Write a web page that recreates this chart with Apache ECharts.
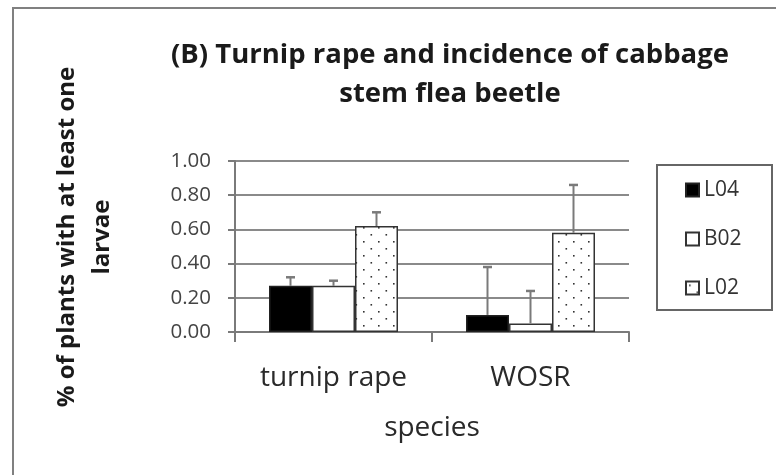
<!DOCTYPE html>
<html>
<head>
<meta charset="utf-8">
<script src="https://cdn.jsdelivr.net/npm/echarts@6/dist/echarts.min.js"></script>
<style>
  html, body { margin: 0; padding: 0; background: #fff; }
  #chart { width: 776px; height: 475px; }
</style>
</head>
<body>
<div id="chart"></div>
<script>
// data
const categories = ['turnip rape', 'WOSR'];
const seriesNames = ['L04', 'B02', 'L02'];
const valL04 = [0.27, 0.10];
const valB02 = [0.27, 0.05];
const valL02 = [0.62, 0.58];
// upper error bar lengths
const errL04 = [0.05, 0.28];
const errB02 = [0.03, 0.19];
const errL02 = [0.08, 0.28];
const yTicks = [0, 0.2, 0.4, 0.6, 0.8, 1.0];

const FONT = '"Open Sans", Lato, sans-serif';
const BAR_W = 43;

// dotted fill for L02
const dotCanvas = document.createElement('canvas');
dotCanvas.width = 15;
dotCanvas.height = 14;
const dctx = dotCanvas.getContext('2d');
dctx.fillStyle = '#fff';
dctx.fillRect(0, 0, 15, 14);
dctx.fillStyle = '#333';
dctx.fillRect(3, 3, 1.6, 1.6);
dctx.fillRect(10.5, 10, 1.6, 1.6);

let chart = echarts.init(document.getElementById('chart'));

const barStyle = {
  L04: { color: '#000', borderColor: '#222', borderWidth: 1.5 },
  B02: { color: '#fff', borderColor: '#333', borderWidth: 1.5 },
  L02: { color: { image: dotCanvas, repeat: 'repeat' }, borderColor: '#333', borderWidth: 1.5 }
};

const makeErr = (vals, errs, offset) => {
  return {
    type: 'custom',
    z: 5,
    silent: true,
    data: vals.map((v, i) => [i, v, v + errs[i]]),
    renderItem: (params, api) => {
      const base = api.coord([api.value(0), api.value(1)]);
      const top = api.coord([api.value(0), api.value(2)]);
      const x = base[0] + offset;
      return {
        type: 'group',
        children: [{
          type: 'line',
          shape: { x1: x, y1: base[1], x2: x, y2: top[1] },
          style: { stroke: '#7a7a7a', lineWidth: 2 }
        }, {
          type: 'line',
          shape: { x1: x - 4.5, y1: top[1], x2: x + 4.5, y2: top[1] },
          style: { stroke: '#7a7a7a', lineWidth: 2.5 }
        }]
      };
    }
  };
};

let option = {
  animation: false,
  backgroundColor: '#fff',
  title: {
    text: '(B) Turnip rape and incidence of cabbage\nstem flea beetle',
    left: 445,
    top: 31,
    textAlign: 'center',
    textStyle: { fontFamily: FONT, fontSize: 27.5, fontWeight: 'bold', color: '#1a1a1a', lineHeight: 39 }
  },
  legend: {
    orient: 'vertical',
    left: 685,
    top: 178,
    icon: 'rect',
    itemWidth: 13,
    itemHeight: 13,
    itemGap: 25,
    padding: 0,
    data: seriesNames,
    textStyle: { fontFamily: FONT, fontSize: 21, color: '#333', lineHeight: 24 }
  },
  grid: { left: 235, right: 147, top: 161, bottom: 143 },
  xAxis: {
    type: 'category',
    data: categories,
    axisLine: { lineStyle: { color: '#7a7a7a', width: 2 } },
    axisTick: { show: true, length: 10, lineStyle: { color: '#7a7a7a', width: 2 } },
    axisLabel: { fontFamily: FONT, fontSize: 28, color: '#2a2a2a', margin: 32 },
    name: 'species',
    nameLocation: 'middle',
    nameGap: 82,
    nameTextStyle: { fontFamily: FONT, fontSize: 28, color: '#2a2a2a' }
  },
  yAxis: {
    type: 'value',
    min: 0,
    max: 1,
    interval: 0.2,
    axisLine: { show: true, lineStyle: { color: '#7a7a7a', width: 2 } },
    axisTick: { show: true, length: 7, lineStyle: { color: '#7a7a7a', width: 2 } },
    splitLine: { lineStyle: { color: '#8a8a8a', width: 2 } },
    axisLabel: {
      fontFamily: FONT, fontSize: 20.5, color: '#444', margin: 24,
      formatter: (v) => yTicks.includes(Math.round(v * 10) / 10) ? v.toFixed(2) : ''
    }
  },
  graphic: [{
    type: 'rect',
    shape: { x: 13, y: 8, width: 800, height: 600 },
    style: { fill: 'none', stroke: '#808080', lineWidth: 2 },
    z: -1
  }, {
    type: 'rect',
    shape: { x: 657, y: 165, width: 115, height: 145 },
    style: { fill: 'none', stroke: '#666', lineWidth: 2 }
  }, {
    type: 'text',
    x: 85,
    y: 237,
    rotation: Math.PI / 2,
    style: {
      text: '% of plants with at least one\nlarvae',
      font: 'bold 24px ' + FONT,
      fill: '#1a1a1a',
      textAlign: 'center',
      textVerticalAlign: 'middle',
      lineHeight: 35
    }
  }],
  series: [{
    name: 'L04', type: 'bar', data: valL04, barWidth: BAR_W, barGap: '0%',
    itemStyle: barStyle.L04
  }, {
    name: 'B02', type: 'bar', data: valB02, barWidth: BAR_W, barGap: '0%',
    itemStyle: barStyle.B02
  }, {
    name: 'L02', type: 'bar', data: valL02, barWidth: BAR_W, barGap: '0%',
    itemStyle: barStyle.L02
  },
  makeErr(valL04, errL04, -BAR_W),
  makeErr(valB02, errB02, 0),
  makeErr(valL02, errL02, BAR_W)
  ]
};

chart.setOption(option);
</script>
</body>
</html>
